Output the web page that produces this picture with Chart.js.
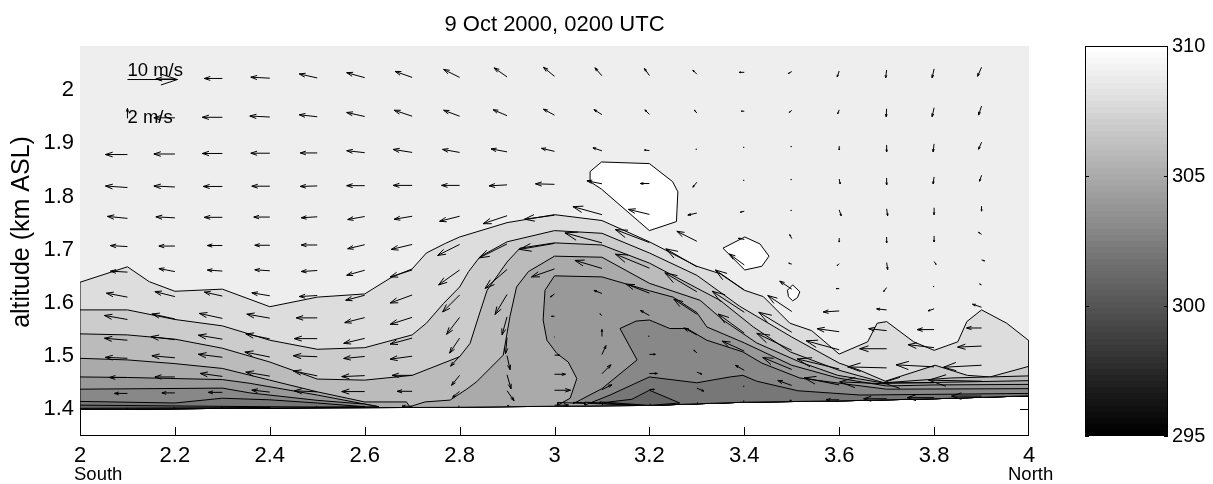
<!DOCTYPE html>
<html>
<head>
<meta charset="utf-8">
<title>9 Oct 2000, 0200 UTC</title>
<script src="https://cdn.jsdelivr.net/npm/chart.js@4"></script>
<style>
  body { margin: 0; background: #fff; }
  #wrap { position: relative; width: 1213px; height: 484px; }
  canvas { position: absolute; top: 0; }
</style>
</head>
<body>
<div id="wrap">
  <canvas id="mainChart" width="1213" height="484" style="left:0"></canvas>
  <canvas id="barChart" width="143" height="484" style="left:1070px"></canvas>
</div>
<script>
const xTicks = [2, 2.2, 2.4, 2.6, 2.8, 3, 3.2, 3.4, 3.6, 3.8, 4];
const yTicks = [1.4, 1.5, 1.6, 1.7, 1.8, 1.9, 2];
const barTicks = [295, 300, 305, 310];

// ground height along the section (km ASL)
const ground = [[2,1.400],[2.4,1.4025],[2.8,1.404],[3,1.406],[3.2,1.4075],[3.4,1.4135],[3.6,1.416],[3.8,1.420],[4,1.4255]];

// contour lines of potential temperature, [x, altitude]
const top309 = [[2,2.083],[4,2.083]];
const c308 = [[2,1.639],[2.1,1.668],[2.146,1.640],[2.2,1.622],[2.3,1.626],[2.4,1.593],[2.5,1.611],[2.6,1.617],[2.658,1.649],[2.7,1.664],[2.73,1.694],[2.77,1.712],[2.8,1.724],[2.9,1.751],[3,1.766],[3.1,1.755],[3.2,1.715],[3.3,1.669],[3.349,1.655],[3.4,1.624],[3.44,1.612],[3.496,1.562],[3.542,1.548],[3.6,1.504],[3.66,1.527],[3.68,1.562],[3.7,1.565],[3.757,1.527],[3.8,1.511],[3.85,1.527],[3.869,1.565],[3.9,1.587],[3.953,1.562],[4,1.529]];
const c307 = [[2,1.587],[2.1,1.587],[2.2,1.569],[2.3,1.557],[2.4,1.530],[2.5,1.513],[2.6,1.516],[2.7,1.540],[2.73,1.562],[2.766,1.599],[2.8,1.630],[2.819,1.659],[2.843,1.687],[2.9,1.715],[3,1.736],[3.1,1.731],[3.2,1.694],[3.3,1.652],[3.39,1.594],[3.5,1.536],[3.6,1.487],[3.642,1.474],[3.697,1.453],[3.802,1.483],[3.87,1.464],[3.918,1.461],[4,1.481]];
const c306 = [[2,1.542],[2.1,1.540],[2.2,1.532],[2.3,1.515],[2.4,1.489],[2.5,1.457],[2.6,1.455],[2.7,1.464],[2.8,1.499],[2.822,1.524],[2.843,1.583],[2.858,1.624],[2.9,1.677],[2.927,1.703],[3,1.713],[3.1,1.709],[3.2,1.675],[3.3,1.628],[3.349,1.605],[3.419,1.555],[3.497,1.508],[3.598,1.474],[3.695,1.450],[3.834,1.459],[4,1.463]];
const c305 = [[2,1.496],[2.1,1.493],[2.2,1.486],[2.3,1.477],[2.4,1.455],[2.5,1.433],[2.6,1.414],[2.688,1.414],[2.695,1.405],[2.727,1.414],[2.78,1.4175],[2.815,1.438],[2.836,1.452],[2.892,1.502],[2.906,1.574],[2.92,1.630],[2.945,1.659],[3,1.688],[3.1,1.686],[3.2,1.637],[3.307,1.605],[3.355,1.568],[3.426,1.525],[3.517,1.489],[3.597,1.464],[3.697,1.449],[4,1.454]];
const c304a = [[2,1.461],[2.1,1.460],[2.3,1.456],[2.358,1.449],[2.5,1.427],[2.63,1.405]];
const c304b = [[3.007,1.408],[3.033,1.421],[3.047,1.458],[3.029,1.489],[3.005,1.505],[2.984,1.530],[2.976,1.568],[2.98,1.624],[3,1.651],[3.1,1.649],[3.2,1.623],[3.25,1.611],[3.3,1.582],[3.321,1.555],[3.4,1.525],[3.5,1.483],[3.597,1.459],[3.7,1.444],[3.8,1.446],[4,1.447]];
const c303a = [[2,1.438],[2.3,1.440],[2.358,1.431],[2.5,1.417],[2.6,1.41],[2.63,1.405]];
const c303b = [[3.04,1.411],[3.1,1.439],[3.174,1.493],[3.138,1.552],[3.172,1.566],[3.2,1.568],[3.243,1.552],[3.279,1.552],[3.321,1.530],[3.397,1.508],[3.437,1.487],[3.517,1.459],[3.602,1.449],[3.7,1.438],[4,1.439]];
const c302a = [[2,1.415],[2.2,1.412],[2.3,1.421],[2.4,1.418],[2.5,1.412],[2.6,1.405]];
const c302b = [[3.064,1.408],[3.117,1.427],[3.2,1.461],[3.3,1.45],[3.37,1.461],[3.397,1.464],[3.426,1.453],[3.513,1.435],[3.644,1.427],[4,1.430]];
const c301a = [[2,1.408],[2.4,1.405],[2.6,1.404]];
const c301b = [[3.096,1.412],[3.163,1.419],[3.2,1.436],[3.264,1.412]];
const c300a = [[2,1.402],[2.4,1.4035]];

// closed patches above 310 K
const blobA = [[3.099,1.865],[3.2,1.862],[3.249,1.828],[3.26,1.809],[3.257,1.753],[3.2,1.736],[3.099,1.814],[3.075,1.828],[3.075,1.847],[3.099,1.865]];
const blobB = [[3.355,1.703],[3.401,1.724],[3.433,1.711],[3.452,1.688],[3.437,1.669],[3.401,1.662],[3.355,1.703]];
const blobC = [[3.491,1.624],[3.502,1.634],[3.517,1.621],[3.512,1.61],[3.502,1.604],[3.493,1.612],[3.491,1.624]];

// wind vectors: columns along the section, rows by height above ground
const windX = [2,2.1,2.2,2.3,2.4,2.5,2.6,2.7,2.8,2.9,3,3.1,3.2,3.3,3.4,3.5,3.6,3.7,3.8,3.9];
const windGround = [1.4,1.4,1.401,1.402,1.4025,1.403,1.4035,1.404,1.404,1.405,1.406,1.407,1.4075,1.41,1.4135,1.415,1.416,1.418,1.42,1.423];
const windAgl = [0.620,0.547,0.479,0.417,0.359,0.306,0.258,0.211,0.169,0.130,0.096,0.060,0.030,0.002];
const windU = [
  [-4,null,-3.8,-3.6,-3.8,-3.6,-3.6,-3.4,-3.2,-2.6,-2.2,-1.4,-1,-.8,-1,-.7,-.4,-.2,-.4,-.8],
  [-4,null,-4.2,-4,-4,-3.6,-3.6,-3.6,-3.2,-2.8,-2.2,-1.6,-.9,-.5,-.6,-.5,-.3,-.1,-.4,-.6],
  [-4,-4.4,-4.2,-4,-3.8,-3.4,-3.6,-3.8,-3.4,-3.2,-2.6,-1.8,-1,-.2,-.2,-.2,0,0,-.2,-.6],
  [-4,-4.4,-4.2,-3.8,-3.6,-3.4,-3.6,-3.8,-3.6,-3.6,-3.8,-3,-1.8,-.8,-.2,-.2,.2,0,-.2,-.4],
  [-4,-4,-3.8,-3.6,-3.2,-3.2,-3.4,-3.6,-4,-4.8,-6,-5.8,-4.2,-1.8,-.8,-.2,.4,.2,0,0],
  [-4,-3.4,-3.2,-3,-3,-3.2,-3.4,-4.2,-4.4,-5.6,-7,-7.4,-6.8,-4,-1.2,-.4,0,0,0,-.6],
  [-4,-3.4,-3.2,-3,-3,-3.2,-3.6,-4.4,-4.2,-4.4,-4.6,-5.4,-6.8,-6.2,-3,-.6,-.4,.2,.4,.6],
  [-4,-4.2,-4,-3.6,-3.6,-3.6,-3.8,-4.4,-3.4,-2.4,-.8,-1.6,-4.6,-6.4,-5.8,-2.4,-.6,-.6,-.2,-.4],
  [-4,-4.6,-4.6,-4.6,-4.6,-4.2,-4,-4.4,-2.6,-1,-.6,-.4,-1.8,-4.6,-6.4,-4.8,-3.2,-2,-1.2,-1.8],
  [-4,-4.6,-4.8,-4.8,-4.8,-4.6,-4.2,-4.4,-2,-.3,-.1,0,-.2,-2.6,-5.2,-6.6,-4.4,-3.6,-3.4,-3],
  [-4,-4.4,-4.6,-4.8,-5,-4.8,-4.2,-4.4,-1.8,.6,1,.8,1.2,-.6,-4.4,-7,-6.6,-5.4,-5.2,-4.8],
  [-4,-3.6,-4,-4.4,-4.8,-4.8,-4.6,-4,-1.6,.8,2.2,1.8,1.6,1,-1.8,-5.8,-8.4,-7.8,-7.6,-7.6],
  [-3,-2.6,-2.6,-2.8,-3.6,-4.6,-4.6,-3,-1.4,1.4,3.2,2,1,1.4,-.2,-2.8,-7,-9.4,-10.2,-10.6],
  [-.2,-.2,-.2,-.2,-.2,-.2,-.2,-2,-.2,.4,2.8,.2,.2,.2,-.2,-.4,-2.6,-4.6,-5.4,-6]
];
const windW = [
  [0,null,0,0,.2,.8,1,1.2,1.6,1.8,1.8,1.6,1.4,.8,0,-.4,-1.2,-1.6,-1.8,-1.8],
  [0,null,0,0,.2,.4,.8,1.2,1.2,1.2,1.2,1,.9,.6,0,-.4,-.8,-1.6,-1.8,-1.8],
  [0,0,0,0,0,0,.4,.6,.6,.6,.6,.6,.1,0,0,0,-.8,-1.4,-1.6,-1.4],
  [0,.3,.2,0,0,-.1,0,0,0,-.2,.1,.6,0,-1,0,0,-1,-1.4,-1.4,-1.2],
  [0,.4,.2,0,0,-.2,-.6,-.6,-1,-1.6,-.8,1.6,1,-.4,-.2,0,-1.2,-1.4,-1.4,-1],
  [0,.2,0,0,0,0,-.8,-1,-2.2,-2.8,-1.2,2,2.6,2,.2,.8,-.8,-1.2,-1.2,.4],
  [0,.2,.6,.2,.2,-.2,-1,-1.4,-3,-3.8,-1.6,1.6,2.8,3.6,2.2,.2,-.4,-1.4,-.6,-.2],
  [0,.8,1,.8,.6,-.2,-1,-1.6,-3.4,-4,-.6,.6,1.8,3.8,4,1.6,0,-.8,0,.2],
  [0,.8,1,1,.8,0,-1,-1.4,-3.4,-3.6,0,.4,1,3,4.2,3.2,-.2,.2,-.4,.6],
  [0,.4,.6,.8,1,0,-1,-1.2,-3,-3.2,0,1.4,0,1.4,3.8,4,.6,.4,0,0],
  [0,.2,.4,.6,1,.2,-.4,-.6,-2,-2.8,0,1.8,0,.6,2,3.4,1.8,0,.6,-.2],
  [0,0,0,.6,.8,1,-.2,0,-2,-2.8,0,1.8,0,-.4,1,2.4,2,.2,.4,-.4],
  [0,0,0,0,.4,.2,0,0,-1.2,-2,0,1,0,-.6,0,1,1.4,.4,0,.2],
  [0,0,0,0,0,0,0,0,0,0,0,0,0,0,0,0,0,0,0,0]
];
// reference arrows: [x, row, u, w]
const refArrows = [[2.1, 0, 10, 0], [2.1, 1, 0, 2]];
const refLabels = ['10 m/s', '2 m/s'];
const PX_PER_MS = 5;

const FONT = '"Liberation Sans", Arial, sans-serif';

// walk back along the ground so a contour becomes a closed patch
function toGround(line) {
  const x0 = line[0][0], x1 = line[line.length - 1][0];
  const back = ground.filter(p => p[0] > x0 && p[0] <= x1).reverse();
  return line.concat(back, [[x0, ground[0][1] + (x0 - 2) * 0.0128], line[0]]);
}
const pts = a => a.map(p => ({x: p[0], y: p[1]}));
function patch(line, gray, width) {
  const c = 'rgb(' + gray + ',' + gray + ',' + gray + ')';
  return {data: pts(line), showLine: true, fill: 'shape', backgroundColor: c, borderColor: '#000',
    borderWidth: width === undefined ? 1 : width, pointRadius: 0, tension: 0};
}
const patches = [
  patch(toGround(top309), 238, 0),
  patch(blobA, 255), patch(blobB, 255), patch(blobC, 255),
  patch(toGround(c308), 221),
  patch(toGround(c307), 204),
  patch(toGround(c306), 187),
  patch(toGround(c305), 170),
  patch(toGround(c304a), 153), patch(toGround(c304b), 153),
  patch(toGround(c303a), 136), patch(toGround(c303b), 136),
  patch(toGround(c302a), 119), patch(toGround(c302b), 119),
  patch(toGround(c301a), 102), patch(toGround(c301b), 102),
  patch(toGround(c300a), 85)
];
patches.forEach((d, i) => { d.order = -i; });

function drawArrow(ctx, x0, y0, dx, dy) {
  const tx = x0 + dx, ty = y0 + dy, a = 0.33, b = 0.33;
  ctx.beginPath();
  ctx.moveTo(x0, y0);
  ctx.lineTo(tx, ty);
  ctx.moveTo(tx - a * (dx + b * dy), ty - a * (dy - b * dx));
  ctx.lineTo(tx, ty);
  ctx.lineTo(tx - a * (dx - b * dy), ty - a * (dy + b * dx));
  ctx.stroke();
}

// box and inward ticks, later covered by the patches just like the original
const boxPlugin = {
  id: 'box',
  beforeDatasetsDraw(chart) {
    const {ctx, chartArea: a, scales: {x, y}} = chart;
    ctx.save();
    ctx.strokeStyle = '#000';
    ctx.lineWidth = 1;
    ctx.strokeRect(a.left + 0.5, a.top + 0.5, a.width - 1, a.height - 1);
    ctx.beginPath();
    xTicks.forEach(v => {
      const p = Math.min(Math.round(x.getPixelForValue(v)) + 0.5, a.right - 0.5);
      ctx.moveTo(p, a.bottom); ctx.lineTo(p, a.bottom - 9);
      ctx.moveTo(p, a.top); ctx.lineTo(p, a.top + 9);
    });
    yTicks.forEach(v => {
      const p = Math.round(y.getPixelForValue(v)) + 0.5;
      ctx.moveTo(a.left, p); ctx.lineTo(a.left + 9, p);
      ctx.moveTo(a.right, p); ctx.lineTo(a.right - 9, p);
    });
    ctx.stroke();
    ctx.restore();
  }
};

const quiverPlugin = {
  id: 'quiver',
  afterDatasetsDraw(chart) {
    const {ctx, chartArea: a, scales: {x, y}} = chart;
    ctx.save();
    ctx.beginPath();
    ctx.rect(a.left, a.top, a.width, a.height);
    ctx.clip();
    ctx.strokeStyle = '#000';
    ctx.lineWidth = 1;
    windU.forEach((row, r) => {
      row.forEach((u, c) => {
        if (u === null) return;
        drawArrow(ctx, x.getPixelForValue(windX[c]), y.getPixelForValue(windGround[c] + windAgl[r]),
          u * PX_PER_MS, -windW[r][c] * PX_PER_MS);
      });
    });
    refArrows.forEach(([rx, r, u, w], i) => {
      const px = x.getPixelForValue(rx), py = y.getPixelForValue(windGround[1] + windAgl[r]);
      drawArrow(ctx, px, py, u * PX_PER_MS, -w * PX_PER_MS);
      ctx.fillStyle = '#000';
      ctx.font = '18.5px ' + FONT;
      ctx.textAlign = 'left';
      ctx.textBaseline = i ? 'middle' : 'bottom';
      ctx.fillText(refLabels[i], px, i ? py : py + 1);
    });
    ctx.restore();
    // end labels under the axis, and the altitude label
    ctx.save();
    ctx.fillStyle = '#000';
    ctx.font = '18.5px ' + FONT;
    ctx.textBaseline = 'middle';
    ctx.fillText('South', x.getPixelForValue(2) - 6, 475);
    ctx.fillText('North', x.getPixelForValue(4) - 21, 475);
    ctx.translate(22, 232);
    ctx.rotate(-Math.PI / 2);
    ctx.font = '25px ' + FONT;
    ctx.textAlign = 'center';
    ctx.fillText('altitude (km ASL)', 0, 0);
    ctx.restore();
  }
};

new Chart(document.getElementById('mainChart'), {
  type: 'scatter',
  data: {datasets: patches},
  plugins: [boxPlugin, quiverPlugin],
  options: {
    responsive: false,
    animation: false,
    layout: {padding: {right: 184}},
    plugins: {
      legend: {display: false},
      tooltip: {enabled: false},
      title: {
        display: true, text: '9 Oct 2000, 0200 UTC', fullSize: false, color: '#000',
        font: {family: FONT, size: 22, weight: 'normal'},
        padding: {top: 12, bottom: 7.6}
      }
    },
    scales: {
      x: {
        type: 'linear', min: 2, max: 4,
        grid: {display: false, drawTicks: false}, border: {display: false},
        afterBuildTicks: s => { s.ticks = xTicks.map(v => ({value: v})); },
        afterFit: s => { s.height = 48; },
        ticks: {color: '#000', padding: 7, maxRotation: 0, autoSkip: false, font: {family: FONT, size: 22}, callback: v => String(v)}
      },
      y: {
        type: 'linear', min: 1.35, max: 2.083,
        grid: {display: false, drawTicks: false}, border: {display: false},
        afterBuildTicks: s => { s.ticks = yTicks.map(v => ({value: v})); },
        afterFit: s => { s.width = 80; },
        ticks: {color: '#000', padding: 6, autoSkip: false, font: {family: FONT, size: 22}, callback: v => String(v)}
      }
    }
  }
});

// colour bar: one floating bar filled with the 64 step gray map
const barRange = [295, 310];
function grayRamp(context) {
  const {ctx, chartArea: a} = context.chart;
  if (!a) return '#888';
  const g = ctx.createLinearGradient(0, a.bottom, 0, a.top);
  for (let i = 0; i < 64; i++) {
    const v = Math.round(255 * i / 63), c = 'rgb(' + v + ',' + v + ',' + v + ')';
    g.addColorStop(i / 64, c);
    g.addColorStop((i + 1) / 64, c);
  }
  return g;
}
const barBox = {
  id: 'barBox',
  afterDatasetsDraw(chart) {
    const {ctx, chartArea: a, scales: {y}} = chart;
    ctx.save();
    ctx.strokeStyle = '#000';
    ctx.strokeRect(a.left + 0.5, a.top + 0.5, a.width - 1, a.height - 1);
    ctx.beginPath();
    barTicks.forEach(v => {
      const p = Math.round(y.getPixelForValue(v)) + 0.5;
      ctx.moveTo(a.left, p); ctx.lineTo(a.left + 4, p);
      ctx.moveTo(a.right, p); ctx.lineTo(a.right - 4, p);
    });
    ctx.stroke();
    ctx.restore();
  }
};
new Chart(document.getElementById('barChart'), {
  type: 'bar',
  data: {labels: ['theta'], datasets: [{data: [barRange], backgroundColor: grayRamp, barPercentage: 1, categoryPercentage: 1, borderSkipped: false}]},
  plugins: [barBox],
  options: {
    responsive: false,
    animation: false,
    layout: {padding: {left: 15, top: 46, bottom: 48}},
    plugins: {legend: {display: false}, tooltip: {enabled: false}},
    scales: {
      x: {display: false},
      y: {
        position: 'right', min: 295, max: 310,
        grid: {display: false, drawTicks: false}, border: {display: false},
        afterBuildTicks: s => { s.ticks = barTicks.map(v => ({value: v})); },
        afterFit: s => { s.width = 45; },
        ticks: {color: '#000', padding: 4, font: {family: FONT, size: 20}}
      }
    }
  }
});
</script>
</body>
</html>
